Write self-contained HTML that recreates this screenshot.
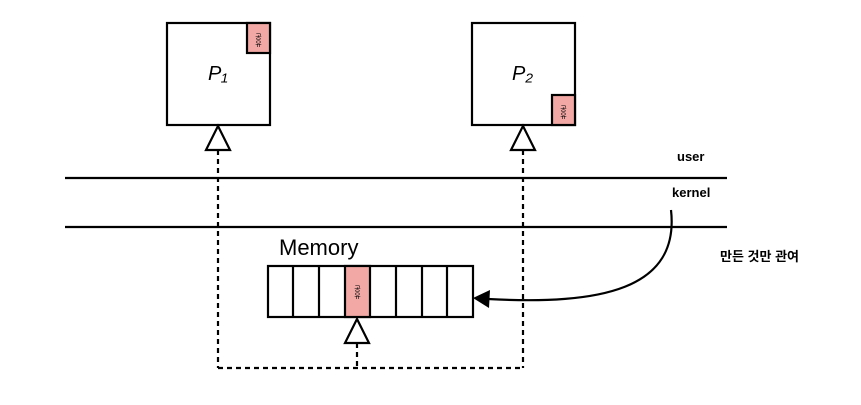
<!DOCTYPE html>
<html><head><meta charset="utf-8"><style>
body{margin:0;background:#fff;width:861px;height:405px;overflow:hidden}
svg{display:block}
</style></head><body>
<svg width="861" height="405" viewBox="0 0 861 405" xmlns="http://www.w3.org/2000/svg">
<g stroke="#000" stroke-width="2.2" fill="none">
<rect x="167" y="23" width="103" height="102" fill="#fff"/>
<rect x="247" y="23" width="23" height="30" fill="#f2a9a6"/>
<rect x="472" y="23" width="103" height="102" fill="#fff"/>
<rect x="552" y="95" width="23" height="30" fill="#f2a9a6"/>
<line x1="65" y1="178" x2="727" y2="178"/>
<line x1="65" y1="227" x2="727" y2="227"/>
<g stroke-dasharray="5,4">
<line x1="218" y1="150" x2="218" y2="368"/>
<line x1="523" y1="150" x2="523" y2="368"/>
<line x1="218" y1="368" x2="523" y2="368"/>
<line x1="357" y1="343" x2="357" y2="368"/>
</g>
<polygon points="218,126 206,150 230,150" fill="#fff"/>
<polygon points="523,126 511,150 535,150" fill="#fff"/>
<polygon points="357,319 345,343 369,343" fill="#fff"/>
<rect x="268" y="266" width="205" height="51" fill="#fff"/>
<rect x="345" y="266" width="25" height="51" fill="#f2a9a6"/>
<line x1="293" y1="266" x2="293" y2="317"/>
<line x1="319" y1="266" x2="319" y2="317"/>
<line x1="396" y1="266" x2="396" y2="317"/>
<line x1="422" y1="266" x2="422" y2="317"/>
<line x1="447" y1="266" x2="447" y2="317"/>
<path d="M671,210 C680,290 600,305 488,299"/>
</g>
<polygon points="473,298 490,290 489,308" fill="#000"/>
<g font-family="'Liberation Sans','Noto Sans CJK KR',sans-serif">
<text x="279" y="255" font-size="22">Memory</text>
<text x="208" y="80" font-size="20" font-style="italic">P₁</text>
<text x="512" y="80" font-size="20" font-style="italic">P₂</text>
<text x="677" y="161" font-size="13" font-weight="bold">user</text>
<text x="672" y="197" font-size="13" font-weight="bold">kernel</text>
<text x="720" y="261" font-size="13" font-weight="bold">만든 것만 관여</text>
<text x="258" y="33" font-size="7" writing-mode="tb">공유</text>
<text x="563" y="105" font-size="7" writing-mode="tb">공유</text>
<text x="357" y="285" font-size="7" writing-mode="tb">공유</text>
</g>
</svg>
</body></html>
